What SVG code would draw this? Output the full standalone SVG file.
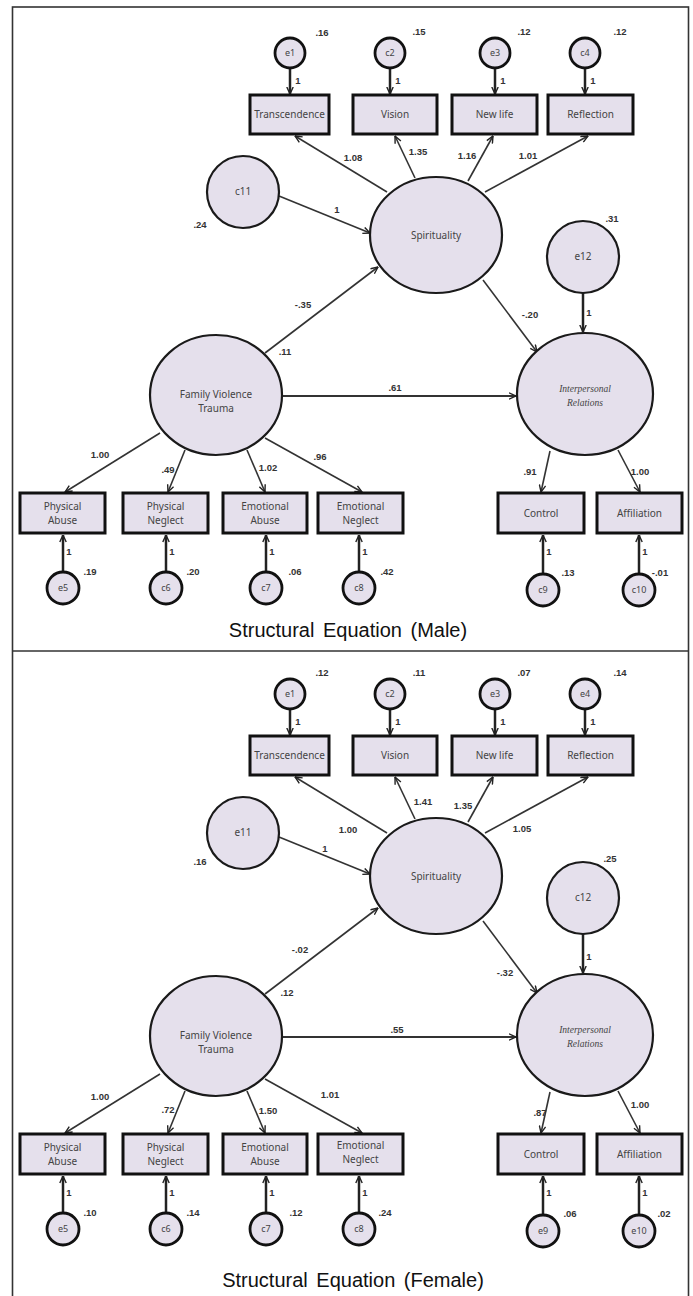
<svg xmlns="http://www.w3.org/2000/svg" width="693" height="1296" viewBox="0 0 693 1296">
<style>
.frame{fill:none;stroke:#333;stroke-width:1.6}
.box{fill:#E5E0EC;stroke:#111;stroke-width:3}
.lat{fill:#E5E0EC;stroke:#1a1a1a;stroke-width:2.2}
.err{fill:#E5E0EC;stroke:#111;stroke-width:2.8}
.lbl{font-family:"Noto Sans","DejaVu Sans",sans-serif;font-size:10px;fill:#444;text-anchor:middle}
.elbl{font-family:"Noto Sans","DejaVu Sans",sans-serif;font-size:9px;fill:#444;text-anchor:middle}
.ital{font-family:"Liberation Serif","DejaVu Serif",serif;font-style:italic;font-size:9.5px;fill:#444;text-anchor:middle}
.num{font-family:"Liberation Sans",Arial,sans-serif;font-size:9.5px;font-weight:bold;fill:#333;text-anchor:middle}
.cap{font-family:"Liberation Sans",Arial,sans-serif;font-size:20px;fill:#111;text-anchor:middle;word-spacing:3px}
.conn{fill:none;stroke:#333;stroke-width:1.6;marker-end:url(#ah)}
.econn{fill:none;stroke:#222;stroke-width:2.5;marker-end:url(#ah)}
</style>
<defs>
<marker id="ah" viewBox="0 0 8 8" refX="7.5" refY="4" markerWidth="8" markerHeight="8" markerUnits="userSpaceOnUse" orient="auto">
<path d="M0.5,0.8 L7.5,4 L0.5,7.2" fill="none" stroke="#222" stroke-width="1.4"/>
</marker>
</defs>
<rect class="frame" x="12.5" y="7" width="676" height="1290"/>
<line class="frame" x1="12.5" y1="651" x2="688.5" y2="651"/>

<g id="male">
<g id="m-connectors">
<line class="econn" x1="290" y1="68" x2="290" y2="94"/>
<line class="econn" x1="390" y1="68" x2="390" y2="94"/>
<line class="econn" x1="495" y1="68" x2="495" y2="94"/>
<line class="econn" x1="585" y1="68" x2="585" y2="94"/>
<line class="conn" x1="387" y1="192" x2="295" y2="136"/>
<line class="conn" x1="415" y1="178" x2="395" y2="136"/>
<line class="conn" x1="468" y1="181" x2="493" y2="136"/>
<line class="conn" x1="485" y1="192" x2="588" y2="136"/>
<line class="conn" x1="279" y1="196" x2="370" y2="233"/>
<line class="conn" x1="265" y1="353" x2="378" y2="267"/>
<line class="conn" x1="483" y1="280" x2="537" y2="352"/>
<line class="econn" x1="583" y1="293" x2="583" y2="332"/>
<line class="conn" x1="283" y1="396" x2="516" y2="396" style="stroke-width:2"/>
<line class="conn" x1="160" y1="433" x2="65" y2="492"/>
<line class="conn" x1="185" y1="450" x2="168" y2="492"/>
<line class="conn" x1="247" y1="450" x2="265" y2="492"/>
<line class="conn" x1="265" y1="438" x2="362" y2="492"/>
<line class="conn" x1="550" y1="451" x2="541" y2="492"/>
<line class="conn" x1="618" y1="450" x2="640" y2="492"/>
<line class="econn" x1="63" y1="572" x2="63" y2="535"/>
<line class="econn" x1="166" y1="572" x2="166" y2="535"/>
<line class="econn" x1="266" y1="572" x2="266" y2="535"/>
<line class="econn" x1="359" y1="572" x2="359" y2="535"/>
<line class="econn" x1="543" y1="574" x2="543" y2="535"/>
<line class="econn" x1="639" y1="574" x2="639" y2="535"/>
</g>
<g id="m-e1"><circle class="err" cx="290" cy="53" r="15"/><text class="elbl" x="290" y="56">e1</text></g>
<g id="m-c2"><circle class="err" cx="390" cy="53" r="15"/><text class="elbl" x="390" y="56">c2</text></g>
<g id="m-e3"><circle class="err" cx="495" cy="53" r="15"/><text class="elbl" x="495" y="56">e3</text></g>
<g id="m-c4"><circle class="err" cx="585" cy="53" r="15"/><text class="elbl" x="585" y="56">c4</text></g>
<g id="m-transcendence"><rect class="box" x="250" y="95" width="79" height="39"/><text class="lbl" x="289.5" y="118">Transcendence</text></g>
<g id="m-vision"><rect class="box" x="353" y="95" width="84" height="39"/><text class="lbl" x="395" y="118">Vision</text></g>
<g id="m-newlife"><rect class="box" x="452" y="95" width="85" height="39"/><text class="lbl" x="494.5" y="118">New life</text></g>
<g id="m-reflection"><rect class="box" x="548" y="95" width="85" height="39"/><text class="lbl" x="590.5" y="118">Reflection</text></g>
<g id="m-c11"><circle class="lat" cx="243" cy="192" r="36"/><text class="lbl" x="243" y="195">c11</text></g>
<g id="m-spirituality"><ellipse class="lat" cx="436" cy="235" rx="66" ry="58"/><text class="lbl" x="436" y="239">Spirituality</text></g>
<g id="m-e12"><circle class="lat" cx="583" cy="257" r="36"/><text class="lbl" x="583" y="260">e12</text></g>
<g id="m-fvt"><ellipse class="lat" cx="216" cy="395" rx="66" ry="60"/><text class="lbl" x="216" y="398">Family Violence</text><text class="lbl" x="216" y="412">Trauma</text></g>
<g id="m-ir"><ellipse class="lat" cx="585" cy="394" rx="68" ry="61"/><text class="ital" x="585" y="392">Interpersonal</text><text class="ital" x="585" y="406">Relations</text></g>
<g id="m-pa"><rect class="box" x="20" y="493" width="85" height="40"/><text class="lbl" x="62.5" y="510">Physical</text><text class="lbl" x="62.5" y="524">Abuse</text></g>
<g id="m-pn"><rect class="box" x="123" y="493" width="85" height="40"/><text class="lbl" x="165.5" y="510">Physical</text><text class="lbl" x="165.5" y="524">Neglect</text></g>
<g id="m-ea"><rect class="box" x="223" y="493" width="84" height="40"/><text class="lbl" x="265" y="510">Emotional</text><text class="lbl" x="265" y="524">Abuse</text></g>
<g id="m-en"><rect class="box" x="318" y="493" width="85" height="40"/><text class="lbl" x="360.5" y="510">Emotional</text><text class="lbl" x="360.5" y="524">Neglect</text></g>
<g id="m-control"><rect class="box" x="498" y="493" width="86" height="40"/><text class="lbl" x="541" y="517">Control</text></g>
<g id="m-affiliation"><rect class="box" x="597" y="493" width="85" height="40"/><text class="lbl" x="639.5" y="517">Affiliation</text></g>
<g id="m-e5"><circle class="err" cx="63" cy="588" r="16"/><text class="elbl" x="63" y="591">e5</text></g>
<g id="m-c6"><circle class="err" cx="166" cy="588" r="16"/><text class="elbl" x="166" y="591">c6</text></g>
<g id="m-c7"><circle class="err" cx="266" cy="588" r="16"/><text class="elbl" x="266" y="591">c7</text></g>
<g id="m-c8"><circle class="err" cx="359" cy="588" r="16"/><text class="elbl" x="359" y="591">c8</text></g>
<g id="m-c9"><circle class="err" cx="543" cy="590" r="16"/><text class="elbl" x="543" y="593">c9</text></g>
<g id="m-c10"><circle class="err" cx="639" cy="590" r="16"/><text class="elbl" x="639" y="593">c10</text></g>
<g id="m-labels">
<text class="num" x="322" y="36">.16</text><text class="num" x="419" y="35">.15</text><text class="num" x="524" y="35">.12</text><text class="num" x="620" y="35">.12</text>
<text class="num" x="298" y="84">1</text><text class="num" x="398" y="84">1</text><text class="num" x="503" y="84">1</text><text class="num" x="593" y="84">1</text>
<text class="num" x="353" y="161">1.08</text><text class="num" x="418" y="155">1.35</text><text class="num" x="467" y="159">1.16</text><text class="num" x="528" y="159">1.01</text>
<text class="num" x="337" y="213">1</text><text class="num" x="200" y="228">.24</text><text class="num" x="612" y="222">.31</text>
<text class="num" x="303" y="308">-.35</text><text class="num" x="530" y="318">-.20</text><text class="num" x="589" y="316">1</text>
<text class="num" x="285" y="355">.11</text><text class="num" x="395" y="391">.61</text>
<text class="num" x="100" y="458">1.00</text><text class="num" x="168" y="473">.49</text><text class="num" x="268" y="471">1.02</text><text class="num" x="320" y="460">.96</text>
<text class="num" x="530" y="475">.91</text><text class="num" x="640" y="475">1.00</text>
<text class="num" x="69" y="555">1</text><text class="num" x="172" y="555">1</text><text class="num" x="272" y="555">1</text><text class="num" x="365" y="555">1</text><text class="num" x="549" y="555">1</text><text class="num" x="645" y="555">1</text>
<text class="num" x="90" y="575">.19</text><text class="num" x="193" y="575">.20</text><text class="num" x="295" y="575">.06</text><text class="num" x="387" y="575">.42</text><text class="num" x="568" y="576">.13</text><text class="num" x="660" y="576">-.01</text>
</g>
</g>
<text id="cap-male" class="cap" x="348" y="637">Structural Equation (Male)</text>

<g id="female" transform="translate(0,641)">
<g id="f-connectors">
<line class="econn" x1="290" y1="68" x2="290" y2="94"/>
<line class="econn" x1="390" y1="68" x2="390" y2="94"/>
<line class="econn" x1="495" y1="68" x2="495" y2="94"/>
<line class="econn" x1="585" y1="68" x2="585" y2="94"/>
<line class="conn" x1="387" y1="192" x2="295" y2="136"/>
<line class="conn" x1="415" y1="178" x2="395" y2="136"/>
<line class="conn" x1="468" y1="181" x2="493" y2="136"/>
<line class="conn" x1="485" y1="192" x2="588" y2="136"/>
<line class="conn" x1="279" y1="196" x2="370" y2="233"/>
<line class="conn" x1="265" y1="353" x2="378" y2="267"/>
<line class="conn" x1="483" y1="280" x2="537" y2="352"/>
<line class="econn" x1="583" y1="293" x2="583" y2="332"/>
<line class="conn" x1="283" y1="396" x2="516" y2="396" style="stroke-width:2"/>
<line class="conn" x1="160" y1="433" x2="65" y2="492"/>
<line class="conn" x1="185" y1="450" x2="168" y2="492"/>
<line class="conn" x1="247" y1="450" x2="265" y2="492"/>
<line class="conn" x1="265" y1="438" x2="362" y2="492"/>
<line class="conn" x1="550" y1="451" x2="541" y2="492"/>
<line class="conn" x1="618" y1="450" x2="640" y2="492"/>
<line class="econn" x1="63" y1="572" x2="63" y2="535"/>
<line class="econn" x1="166" y1="572" x2="166" y2="535"/>
<line class="econn" x1="266" y1="572" x2="266" y2="535"/>
<line class="econn" x1="359" y1="572" x2="359" y2="535"/>
<line class="econn" x1="543" y1="574" x2="543" y2="535"/>
<line class="econn" x1="639" y1="574" x2="639" y2="535"/>
</g>
<g id="f-e1"><circle class="err" cx="290" cy="53" r="15"/><text class="elbl" x="290" y="56">e1</text></g>
<g id="f-c2"><circle class="err" cx="390" cy="53" r="15"/><text class="elbl" x="390" y="56">c2</text></g>
<g id="f-e3"><circle class="err" cx="495" cy="53" r="15"/><text class="elbl" x="495" y="56">e3</text></g>
<g id="f-e4"><circle class="err" cx="585" cy="53" r="15"/><text class="elbl" x="585" y="56">e4</text></g>
<g id="f-transcendence"><rect class="box" x="250" y="95" width="79" height="39"/><text class="lbl" x="289.5" y="118">Transcendence</text></g>
<g id="f-vision"><rect class="box" x="353" y="95" width="84" height="39"/><text class="lbl" x="395" y="118">Vision</text></g>
<g id="f-newlife"><rect class="box" x="452" y="95" width="85" height="39"/><text class="lbl" x="494.5" y="118">New life</text></g>
<g id="f-reflection"><rect class="box" x="548" y="95" width="85" height="39"/><text class="lbl" x="590.5" y="118">Reflection</text></g>
<g id="f-e11"><circle class="lat" cx="243" cy="192" r="36"/><text class="lbl" x="243" y="195">e11</text></g>
<g id="f-spirituality"><ellipse class="lat" cx="436" cy="235" rx="66" ry="58"/><text class="lbl" x="436" y="239">Spirituality</text></g>
<g id="f-c12"><circle class="lat" cx="583" cy="257" r="36"/><text class="lbl" x="583" y="260">c12</text></g>
<g id="f-fvt"><ellipse class="lat" cx="216" cy="395" rx="66" ry="60"/><text class="lbl" x="216" y="398">Family Violence</text><text class="lbl" x="216" y="412">Trauma</text></g>
<g id="f-ir"><ellipse class="lat" cx="585" cy="394" rx="68" ry="61"/><text class="ital" x="585" y="392">Interpersonal</text><text class="ital" x="585" y="406">Relations</text></g>
<g id="f-pa"><rect class="box" x="20" y="493" width="85" height="40"/><text class="lbl" x="62.5" y="510">Physical</text><text class="lbl" x="62.5" y="524">Abuse</text></g>
<g id="f-pn"><rect class="box" x="123" y="493" width="85" height="40"/><text class="lbl" x="165.5" y="510">Physical</text><text class="lbl" x="165.5" y="524">Neglect</text></g>
<g id="f-ea"><rect class="box" x="223" y="493" width="84" height="40"/><text class="lbl" x="265" y="510">Emotional</text><text class="lbl" x="265" y="524">Abuse</text></g>
<g id="f-en"><rect class="box" x="318" y="493" width="85" height="40"/><text class="lbl" x="360.5" y="508">Emotional</text><text class="lbl" x="360.5" y="522">Neglect</text></g>
<g id="f-control"><rect class="box" x="498" y="493" width="86" height="40"/><text class="lbl" x="541" y="517">Control</text></g>
<g id="f-affiliation"><rect class="box" x="597" y="493" width="85" height="40"/><text class="lbl" x="639.5" y="517">Affiliation</text></g>
<g id="f-e5"><circle class="err" cx="63" cy="588" r="16"/><text class="elbl" x="63" y="591">e5</text></g>
<g id="f-c6"><circle class="err" cx="166" cy="588" r="16"/><text class="elbl" x="166" y="591">c6</text></g>
<g id="f-c7"><circle class="err" cx="266" cy="588" r="16"/><text class="elbl" x="266" y="591">c7</text></g>
<g id="f-c8"><circle class="err" cx="359" cy="588" r="16"/><text class="elbl" x="359" y="591">c8</text></g>
<g id="f-e9"><circle class="err" cx="543" cy="590" r="16"/><text class="elbl" x="543" y="593">e9</text></g>
<g id="f-e10"><circle class="err" cx="639" cy="590" r="16"/><text class="elbl" x="639" y="593">e10</text></g>
<g id="f-labels">
<text class="num" x="322" y="35">.12</text><text class="num" x="419" y="35">.11</text><text class="num" x="524" y="35">.07</text><text class="num" x="620" y="35">.14</text>
<text class="num" x="298" y="84">1</text><text class="num" x="398" y="84">1</text><text class="num" x="503" y="84">1</text><text class="num" x="593" y="84">1</text>
<text class="num" x="348" y="192">1.00</text><text class="num" x="423" y="164">1.41</text><text class="num" x="463" y="168">1.35</text><text class="num" x="522" y="191">1.05</text>
<text class="num" x="325" y="211">1</text><text class="num" x="200" y="224">.16</text><text class="num" x="610" y="221">.25</text>
<text class="num" x="300" y="312">-.02</text><text class="num" x="505" y="335">-.32</text><text class="num" x="589" y="319">1</text>
<text class="num" x="287" y="355">.12</text><text class="num" x="397" y="392">.55</text>
<text class="num" x="100" y="459">1.00</text><text class="num" x="168" y="472">.72</text><text class="num" x="268" y="473">1.50</text><text class="num" x="330" y="457">1.01</text>
<text class="num" x="540" y="475">.87</text><text class="num" x="640" y="467">1.00</text>
<text class="num" x="69" y="555">1</text><text class="num" x="172" y="555">1</text><text class="num" x="272" y="555">1</text><text class="num" x="365" y="555">1</text><text class="num" x="549" y="555">1</text><text class="num" x="645" y="555">1</text>
<text class="num" x="90" y="575">.10</text><text class="num" x="193" y="575">.14</text><text class="num" x="296" y="575">.12</text><text class="num" x="385" y="575">.24</text><text class="num" x="570" y="576">.06</text><text class="num" x="664" y="576">.02</text>
</g>
</g>
<text id="cap-female" class="cap" x="353" y="1287">Structural Equation (Female)</text>
</svg>
